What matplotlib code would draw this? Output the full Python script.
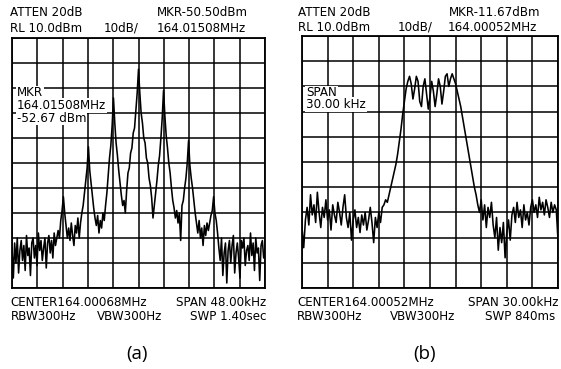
import numpy as np
import matplotlib
matplotlib.use("Agg")
import matplotlib.pyplot as plt

# ---------------- data ----------------
# panel (a): span 48 kHz around 164.00068 MHz, trace in dBm (RL 10 dBm, 10 dB/div)
span_a_khz = 48.0
trace_a = [
    -74, -86, -72, -80, -70, -84, -75, -71, -79, -73, -83, -69, -77, -74, -85, -72, -70, -78,
    -73, -81, -68, -75, -71, -79, -74, -70, -82, -72, -69, -76, -71, -78, -68, -73, -70, -67,
    -70, -63, -59, -53.5, -60, -65, -70,
    -66, -71, -64, -69, -73, -65, -68, -62, -70, -64, -60, -57,
    -52, -47, -42, -33.5, -43, -48, -53,
    -58, -62, -65, -61, -68, -63, -66, -60, -63, -57, -52,
    -45, -38, -33, -25, -14, -24, -32, -37, -43,
    -48, -53, -57, -55, -60,
    -51, -44, -42, -36, -34, -28, -26, -19, -12, -2.5, -12, -20, -24, -30, -32, -38, -40, -46, -49,
    -54, -62, -57, -52, -47, -41, -37, -30, -22, -11, -21, -29, -34, -40, -44, -50,
    -55, -58, -62, -59, -64, -60, -71, -57,
    -55, -50, -46, -40, -31, -41, -46, -50, -55,
    -60, -64, -68, -63, -70, -66, -73, -65, -69, -64, -67,
    -64, -61, -59, -53.5, -60, -63, -68,
    -74, -79, -70, -85, -76, -72, -88, -75, -71, -80, -73, -69, -84, -76, -72, -78, -86, -71,
    -74, -70, -81, -75, -73, -79, -68, -77, -72, -83, -70, -76, -74, -87, -73, -71, -78, -75,
]

# panel (b): span 30 kHz around 164.00052 MHz
span_b_khz = 30.0
trace_b = [
    -66, -74, -63, -58, -65, -53, -61, -57, -64, -52, -60, -66, -58, -62, -55, -63, -59, -67,
    -57, -61, -64, -56, -60, -65, -58, -53, -62, -66, -60, -71, -63, -59, -66, -62, -68, -61,
    -65, -60, -67, -63, -58, -64, -72, -62, -66, -60, -64, -58,
    -57, -55, -56, -53, -50, -47, -44, -41, -37, -32, -27, -21, -16, -11, -8,
    -6, -9, -15, -11, -6, -8, -16, -18, -10, -7, -13, -19, -14, -8, -12, -18, -13, -7,
    -10, -17, -12, -6, -5, -10, -7, -5, -7,
    -9, -12, -15, -18, -22, -26, -30, -34, -38, -42, -46, -50, -53, -57,
    -60, -55, -63, -57, -66, -58, -62, -56, -65,
    -70, -62, -75, -66, -72, -64, -78, -68, -63, -71,
    -61, -58, -64, -56, -62, -59, -66, -57, -63, -60, -65, -58,
    -55, -60, -57, -62, -54, -59, -56, -61, -55, -58, -62, -56, -60, -57, -59, -71,
]

ref_level = 10.0
db_per_div = 10.0
n_div = 10

header_a = ["ATTEN 20dB", "MKR-50.50dBm", "RL 10.0dBm", "10dB/", "164.01508MHz"]
footer_a = ["CENTER164.00068MHz", "SPAN 48.00kHz", "RBW300Hz", "VBW300Hz", "SWP 1.40sec"]
inner_a = ["MKR", "164.01508MHz", "-52.67 dBm"]
header_b = ["ATTEN 20dB", "MKR-11.67dBm", "RL 10.0dBm", "10dB/", "164.00052MHz"]
footer_b = ["CENTER164.00052MHz", "SPAN 30.00kHz", "RBW300Hz", "VBW300Hz", "SWP 840ms"]
inner_b = ["SPAN", "30.00 kHz"]
captions = ["(a)", "(b)"]

# ---------------- figure ----------------
W, H = 561, 369
fig = plt.figure(figsize=(W / 100, H / 100), dpi=100)
FONT = "DejaVu Sans"
FS = 8.6


def px_axes(l, t, r, b):
    return fig.add_axes([l / W, 1 - b / H, (r - l) / W, (b - t) / H])


def ftext(x, y, s, ha="left", fs=FS, family=FONT, **kw):
    return fig.text(x / W, 1 - y / H, s, ha=ha, va="center", fontsize=fs,
                    family=family, color="black", **kw)


def setup(ax, span, trace):
    half = span / 2
    freq = np.linspace(-half, half, len(trace))
    bottom = ref_level - db_per_div * n_div
    ax.set_xlim(-half, half)
    ax.set_ylim(bottom, ref_level)
    ax.set_xticks(np.linspace(-half, half, n_div + 1))
    ax.set_yticks(np.linspace(bottom, ref_level, n_div + 1))
    ax.tick_params(length=0, labelbottom=False, labelleft=False)
    ax.grid(True, color="black", lw=1.1)
    for sp in ax.spines.values():
        sp.set_linewidth(1.3)
        sp.set_color("black")
    ax.plot(freq, trace, color="black", lw=1.15, zorder=4)


ax_a = px_axes(12, 38, 265, 288)
ax_b = px_axes(302, 36, 558, 288)
setup(ax_a, span_a_khz, trace_a)
setup(ax_b, span_b_khz, trace_b)

# headers
ftext(10, 13, header_a[0]); ftext(157, 13, header_a[1])
ftext(10, 28, header_a[2]); ftext(104, 28, header_a[3]); ftext(157, 28, header_a[4])
ftext(298, 12.5, header_b[0]); ftext(449, 12.5, header_b[1])
ftext(298, 27.5, header_b[2]); ftext(398, 27.5, header_b[3]); ftext(448, 27.5, header_b[4])

# footers
ftext(10, 302, footer_a[0]); ftext(266, 302, footer_a[1], ha="right")
ftext(11, 316, footer_a[2]); ftext(97, 316, footer_a[3]); ftext(267, 316, footer_a[4], ha="right")
ftext(297, 302, footer_b[0]); ftext(559, 302, footer_b[1], ha="right")
ftext(297, 316, footer_b[2]); ftext(390, 316, footer_b[3]); ftext(555, 316, footer_b[4], ha="right")

# inner annotations (white background, under the trace)
box = dict(fc="white", ec="none", pad=0.6)
for s, y in zip(inner_a, [93, 105.5, 118]):
    ax_a.text(17 / W, 1 - y / H, s, transform=fig.transFigure, ha="left", va="center",
              fontsize=FS, family=FONT, bbox=box, zorder=3)
for s, y in zip(inner_b, [93, 104.5]):
    ax_b.text(306 / W, 1 - y / H, s, transform=fig.transFigure, ha="left", va="center",
              fontsize=FS, family=FONT, bbox=box, zorder=3)

# captions
ftext(137, 354, captions[0], ha="center", fs=13.5, family="Open Sans")
ftext(425, 354, captions[1], ha="center", fs=13.5, family="Open Sans")

fig.savefig("out.png", dpi=100, facecolor="white")
